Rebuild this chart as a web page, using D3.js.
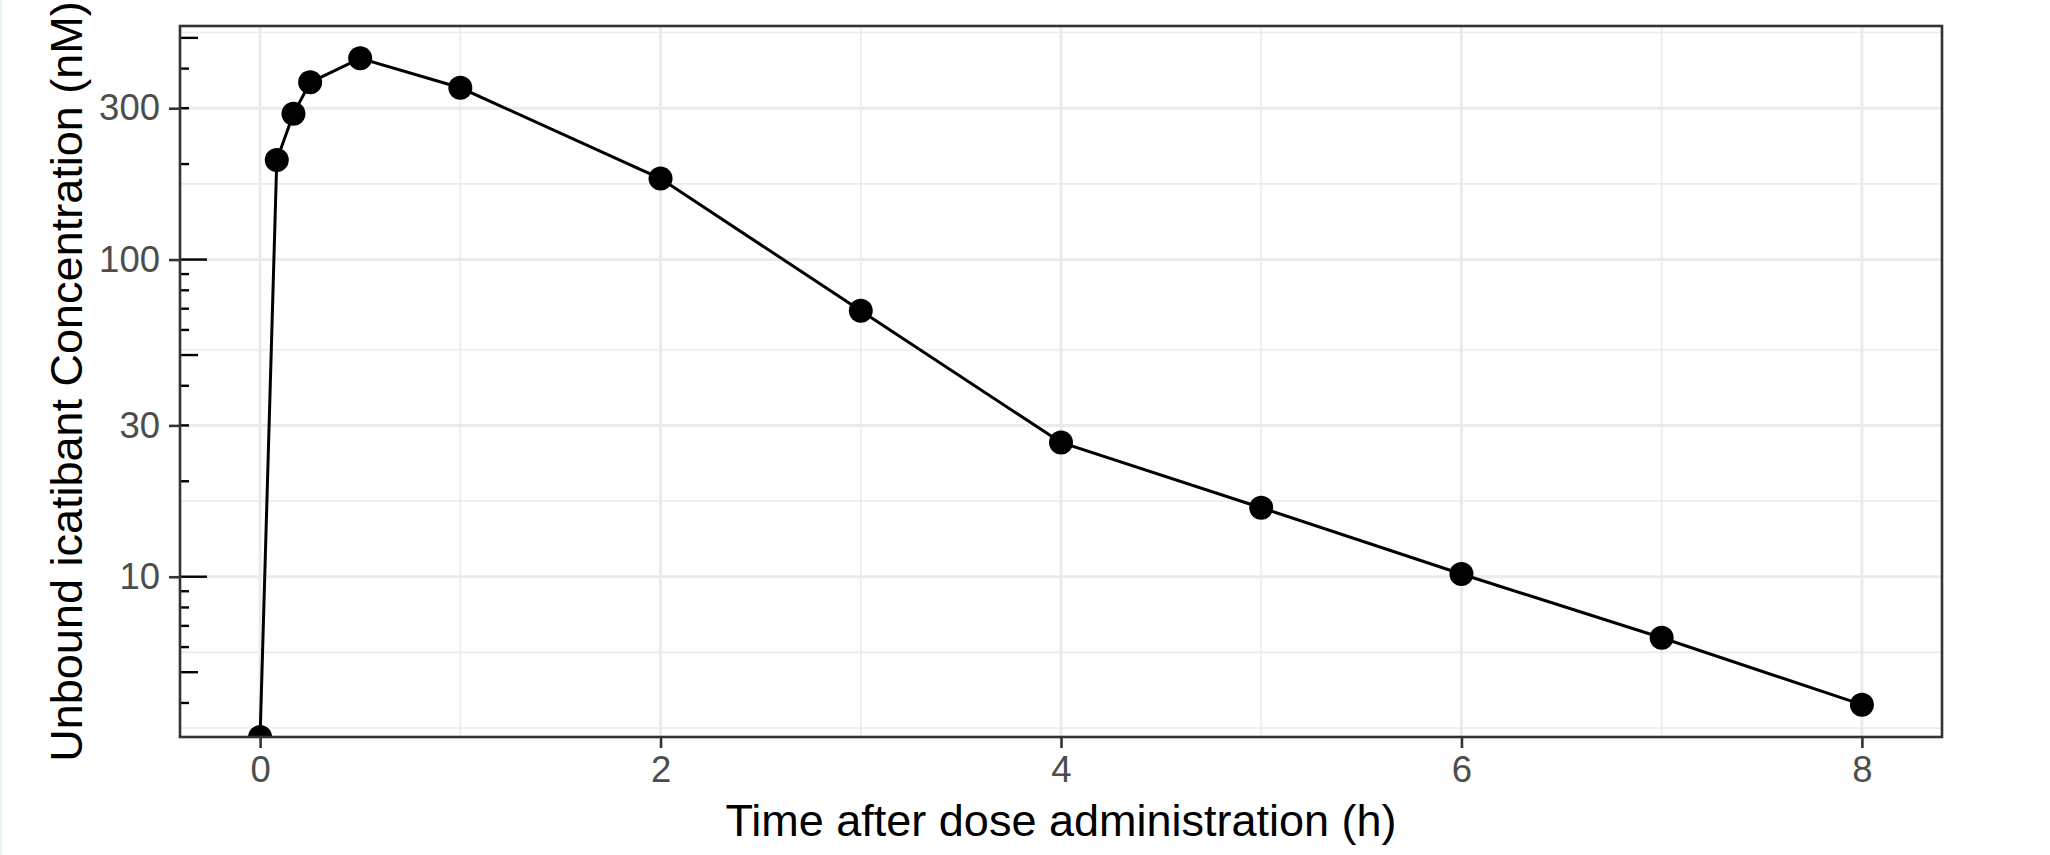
<!DOCTYPE html>
<html>
<head>
<meta charset="utf-8">
<script src="https://cdn.jsdelivr.net/npm/d3@7"></script>
<style>
  html, body { margin: 0; padding: 0; background: #fff; }
  body { border-left: 2px solid #e8f4fc; }
  svg { display: block; font-family: "Liberation Sans", Arial, Helvetica, sans-serif; }
</style>
</head>
<body>
<svg width="2048" height="855"></svg>
<script>
// time after dose (h) and unbound icatibant concentration (nM)
var timeH = [0, 5 / 60, 10 / 60, 0.25, 0.5, 1, 2, 3, 4, 5, 6, 7, 8];
var concNM = [0, 206, 288, 362, 431, 348, 180, 69.0, 26.5, 16.5, 10.2, 6.42, 3.95];

var xBreaks = [0, 2, 4, 6, 8];
var yBreaks = [10, 30, 100, 300];

var xTitle = "Time after dose administration (h)";
var yTitle = "Unbound icatibant Concentration (nM)";

var svg = d3.select("svg");
var panelLeft = 178, panelRight = 1940, panelTop = 26, panelBottom = 737;

// ggplot-like 5% expansion
var xExt = d3.extent(timeH);
var xPad = (xExt[1] - xExt[0]) * 0.05;
var x = d3.scaleLinear()
    .domain([xExt[0] - xPad, xExt[1] + xPad])
    .range([panelLeft, panelRight]);

var logExt = d3.extent(concNM.filter(function(d) { return d > 0; }).map(Math.log10));
var logPad = (logExt[1] - logExt[0]) * 0.05;
var y = d3.scaleLog()
    .domain([Math.pow(10, logExt[0] - logPad), Math.pow(10, logExt[1] + logPad)])
    .range([panelBottom, panelTop]);

// zero can't sit on a log axis: it lands on the panel edge, like -Inf in ggplot
function yPos(v) { return v > 0 ? y(v) : panelBottom; }

// minor breaks: midpoints between majors (in transformed space), extended one step each side
function minorBreaks(b, lim) {
    var bd = b[1] - b[0];
    var ext = [b[0] - bd].concat(b, [b[b.length - 1] + bd]);
    var out = [];
    for (var i = 0; i < ext.length - 1; i++) {
        out.push(ext[i] + bd / 2);
    }
    out.push(ext[0], ext[ext.length - 1]);
    return out.filter(function(v) { return v >= lim[0] && v <= lim[1]; });
}

var xMinor = minorBreaks(xBreaks, x.domain());
var yMinor = minorBreaks(yBreaks.map(Math.log10), y.domain().map(Math.log10))
    .map(function(v) { return Math.pow(10, v); });

svg.append("defs").append("clipPath")
    .attr("id", "panel-clip")
  .append("rect")
    .attr("x", panelLeft).attr("y", panelTop)
    .attr("width", panelRight - panelLeft).attr("height", panelBottom - panelTop);

var panel = svg.append("g").attr("clip-path", "url(#panel-clip)");

panel.append("rect")
    .attr("x", panelLeft).attr("y", panelTop)
    .attr("width", panelRight - panelLeft).attr("height", panelBottom - panelTop)
    .attr("fill", "#fff");

// grid
panel.selectAll(".gx-minor").data(xMinor).enter().append("line")
    .attr("x1", function(d) { return x(d); }).attr("x2", function(d) { return x(d); })
    .attr("y1", panelTop).attr("y2", panelBottom)
    .attr("stroke", "#ebebeb").attr("stroke-width", 1.6);
panel.selectAll(".gy-minor").data(yMinor).enter().append("line")
    .attr("y1", function(d) { return y(d); }).attr("y2", function(d) { return y(d); })
    .attr("x1", panelLeft).attr("x2", panelRight)
    .attr("stroke", "#ebebeb").attr("stroke-width", 1.6);
panel.selectAll(".gx").data(xBreaks).enter().append("line")
    .attr("x1", function(d) { return x(d); }).attr("x2", function(d) { return x(d); })
    .attr("y1", panelTop).attr("y2", panelBottom)
    .attr("stroke", "#ebebeb").attr("stroke-width", 3);
panel.selectAll(".gy").data(yBreaks).enter().append("line")
    .attr("y1", function(d) { return y(d); }).attr("y2", function(d) { return y(d); })
    .attr("x1", panelLeft).attr("x2", panelRight)
    .attr("stroke", "#ebebeb").attr("stroke-width", 3);

// data
var pts = timeH.map(function(t, i) { return [t, concNM[i]]; });

panel.append("path")
    .datum(pts)
    .attr("fill", "none")
    .attr("stroke", "#000")
    .attr("stroke-width", 3)
    .attr("d", d3.line()
        .x(function(d) { return x(d[0]); })
        .y(function(d) { return yPos(d[1]); }));

panel.selectAll(".pt").data(pts).enter().append("circle")
    .attr("cx", function(d) { return x(d[0]); })
    .attr("cy", function(d) { return yPos(d[1]); })
    .attr("r", 12)
    .attr("fill", "#000");

// log ticks on the left side, inside the panel
var logTicks = [];
var lo = Math.floor(Math.log10(y.domain()[0])), hi = Math.ceil(Math.log10(y.domain()[1]));
for (var k = lo; k <= hi; k++) {
    for (var m = 1; m <= 9; m++) {
        var v = m * Math.pow(10, k);
        if (v >= y.domain()[0] && v <= y.domain()[1]) logTicks.push({ v: v, m: m });
    }
}
panel.selectAll(".logtick").data(logTicks).enter().append("line")
    .attr("x1", panelLeft)
    .attr("x2", function(d) { return panelLeft + (d.m === 1 ? 27 : d.m === 5 ? 18 : 9); })
    .attr("y1", function(d) { return y(d.v); }).attr("y2", function(d) { return y(d.v); })
    .attr("stroke", "#000").attr("stroke-width", 2.4);

// border
svg.append("rect")
    .attr("x", panelLeft).attr("y", panelTop)
    .attr("width", panelRight - panelLeft).attr("height", panelBottom - panelTop)
    .attr("fill", "none").attr("stroke", "#333").attr("stroke-width", 2.6);

// axes
var xAxis = svg.append("g")
    .attr("transform", "translate(0," + panelBottom + ")")
    .call(d3.axisBottom(x).tickValues(xBreaks).tickSize(11).tickPadding(8).tickFormat(d3.format("d")));
var yAxis = svg.append("g")
    .attr("transform", "translate(" + panelLeft + ",0)")
    .call(d3.axisLeft(y).tickValues(yBreaks).tickSize(11).tickPadding(9).tickFormat(d3.format("d")));

[xAxis, yAxis].forEach(function(a) {
    a.select(".domain").remove();
    a.selectAll(".tick line").attr("stroke", "#333").attr("stroke-width", 2.6);
    a.selectAll(".tick text")
        .attr("fill", "#4d4d4d")
        .style("font-size", "36.5px")
        .style("font-family", "'Liberation Sans', Arial, sans-serif");
});

svg.append("text")
    .attr("x", (panelLeft + panelRight) / 2)
    .attr("y", 836)
    .attr("text-anchor", "middle")
    .style("font-size", "45px")
    .attr("fill", "#000")
    .text(xTitle);

svg.append("text")
    .attr("transform", "translate(80," + (panelTop + panelBottom) / 2 + ") rotate(-90)")
    .attr("text-anchor", "middle")
    .style("font-size", "45px")
    .attr("fill", "#000")
    .text(yTitle);
</script>
</body>
</html>
